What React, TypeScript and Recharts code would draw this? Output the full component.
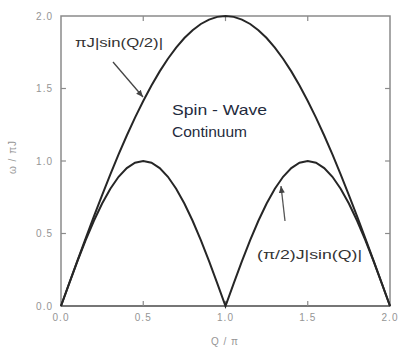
import React from 'react';
import { LineChart, Line, XAxis, YAxis, ReferenceArea, ReferenceLine } from 'recharts';

// Q / π sampled every 0.05
const qValues = [
    0, 0.05, 0.1, 0.15, 0.2, 0.25, 0.3, 0.35, 0.4, 0.45, 0.5,
    0.55, 0.6, 0.65, 0.7, 0.75, 0.8, 0.85, 0.9, 0.95, 1.0,
    1.05, 1.1, 1.15, 1.2, 1.25, 1.3, 1.35, 1.4, 1.45, 1.5,
    1.55, 1.6, 1.65, 1.7, 1.75, 1.8, 1.85, 1.9, 1.95, 2.0,
];

// upper boundary  πJ|sin(Q/2)|
const upperValues = [
    0, 0.157, 0.313, 0.467, 0.618, 0.765, 0.908, 1.045, 1.176, 1.299, 1.414,
    1.521, 1.618, 1.705, 1.782, 1.848, 1.902, 1.945, 1.975, 1.994, 2.0,
    1.994, 1.975, 1.945, 1.902, 1.848, 1.782, 1.705, 1.618, 1.521, 1.414,
    1.299, 1.176, 1.045, 0.908, 0.765, 0.618, 0.467, 0.313, 0.157, 0,
];

// lower boundary  (π/2)J|sin(Q)|
const lowerValues = [
    0, 0.156, 0.309, 0.454, 0.588, 0.707, 0.809, 0.891, 0.951, 0.988, 1.0,
    0.988, 0.951, 0.891, 0.809, 0.707, 0.588, 0.454, 0.309, 0.156, 0,
    0.156, 0.309, 0.454, 0.588, 0.707, 0.809, 0.891, 0.951, 0.988, 1.0,
    0.988, 0.951, 0.891, 0.809, 0.707, 0.588, 0.454, 0.309, 0.156, 0,
];

const xTicks = [0, 0.5, 1.0, 1.5, 2.0];
const yTicks = [0, 0.5, 1.0, 1.5, 2.0];
const innerTicks = [0.5, 1.0, 1.5];

const data = qValues.map((q, i) => ({ q, upper: upperValues[i], lower: lowerValues[i] }));

const FONT = 'Arial, "Liberation Sans", sans-serif';
const TICK_COLOR = '#959595';
const FRAME = '#8a8a8a';
const CURVE = '#262626';

const XTick = (props: any) => {
    const { x, y, payload } = props;
    return (
        <text x={x} y={y + 15} textAnchor="middle" fontSize={10} fill={TICK_COLOR}
            fontFamily={FONT} letterSpacing={1}>
            {payload.value.toFixed(1)}
        </text>
    );
};

const YTick = (props: any) => {
    const { x, y, payload } = props;
    return (
        <text x={x - 8} y={y + 3.5} textAnchor="end" fontSize={10} fill={TICK_COLOR}
            fontFamily={FONT} letterSpacing={1}>
            {payload.value.toFixed(1)}
        </text>
    );
};

const App: React.FC = () => {
    return (
        <div style={{ position: 'absolute', left: 0, top: 0, width: 401, height: 349, background: '#fff' }}>
            <LineChart width={401} height={349} data={data} margin={{ top: 16, right: 11, bottom: 0, left: 0 }}>
                <XAxis
                    dataKey="q"
                    type="number"
                    domain={[0, 2]}
                    ticks={xTicks}
                    height={43}
                    tickSize={0}
                    tickMargin={0}
                    tickLine={false}
                    axisLine={false}
                    tick={<XTick />}
                />
                <YAxis
                    type="number"
                    domain={[0, 2]}
                    ticks={yTicks}
                    width={61}
                    tickSize={0}
                    tickMargin={0}
                    tickLine={false}
                    axisLine={false}
                    tick={<YTick />}
                />
                <ReferenceArea x1={0} x2={2} y1={0} y2={2} fill="none" stroke={FRAME} strokeWidth={1.5} />
                <ReferenceLine segment={[{ x: 0, y: 0 }, { x: 2, y: 0 }]} stroke="#666" strokeWidth={1.5} />
                {innerTicks.map((v) => (
                    <ReferenceLine key={'b' + v} segment={[{ x: v, y: 0 }, { x: v, y: 0.035 }]} stroke={FRAME} strokeWidth={1.2} />
                ))}
                {innerTicks.map((v) => (
                    <ReferenceLine key={'t' + v} segment={[{ x: v, y: 2 }, { x: v, y: 1.965 }]} stroke={FRAME} strokeWidth={1.2} />
                ))}
                {innerTicks.map((v) => (
                    <ReferenceLine key={'l' + v} segment={[{ x: 0, y: v }, { x: 0.03, y: v }]} stroke={FRAME} strokeWidth={1.2} />
                ))}
                {innerTicks.map((v) => (
                    <ReferenceLine key={'r' + v} segment={[{ x: 2, y: v }, { x: 1.97, y: v }]} stroke={FRAME} strokeWidth={1.2} />
                ))}
                <Line type="linear" dataKey="upper" stroke={CURVE} strokeWidth={2} dot={false} isAnimationActive={false} />
                <Line type="linear" dataKey="lower" stroke={CURVE} strokeWidth={2} dot={false} isAnimationActive={false} />
            </LineChart>
            <svg width={401} height={349} style={{ position: 'absolute', left: 0, top: 0, pointerEvents: 'none' }}>
                <defs>
                    <marker id="arrowHead" markerWidth="8" markerHeight="8" refX="7" refY="4" orient="auto" markerUnits="userSpaceOnUse">
                        <path d="M0,1 L7,4 L0,7 Z" fill="#444" />
                    </marker>
                </defs>
                <text x={75} y={47} fontSize={12} fill="#333" fontFamily={FONT} textLength={88} lengthAdjust="spacingAndGlyphs">
                    πJ|sin(Q/2)|
                </text>
                <line x1={113} y1={62} x2={143} y2={97} stroke="#444" strokeWidth={1.3} markerEnd="url(#arrowHead)" />
                <text x={172} y={115} fontSize={15} fill="#1f2b3d" fontFamily={FONT} textLength={95} lengthAdjust="spacingAndGlyphs">
                    Spin - Wave
                </text>
                <text x={172} y={137} fontSize={15} fill="#1f2b3d" fontFamily={FONT} textLength={75} lengthAdjust="spacingAndGlyphs">
                    Continuum
                </text>
                <text x={257} y={259} fontSize={12} fill="#333" fontFamily={FONT} textLength={105} lengthAdjust="spacingAndGlyphs">
                    (π/2)J|sin(Q)|
                </text>
                <line x1={285} y1={221} x2={281} y2={186} stroke="#555" strokeWidth={1.3} markerEnd="url(#arrowHead)" />
                <text x={225} y={345} fontSize={10} fill={TICK_COLOR} fontFamily={FONT} textAnchor="middle" letterSpacing={1}>
                    Q / π
                </text>
                <text x={16} y={157} fontSize={10} fill={TICK_COLOR} fontFamily={FONT} textAnchor="middle" letterSpacing={1}
                    transform="rotate(-90 16 157)">
                    ω / πJ
                </text>
            </svg>
        </div>
    );
};

export default App;
